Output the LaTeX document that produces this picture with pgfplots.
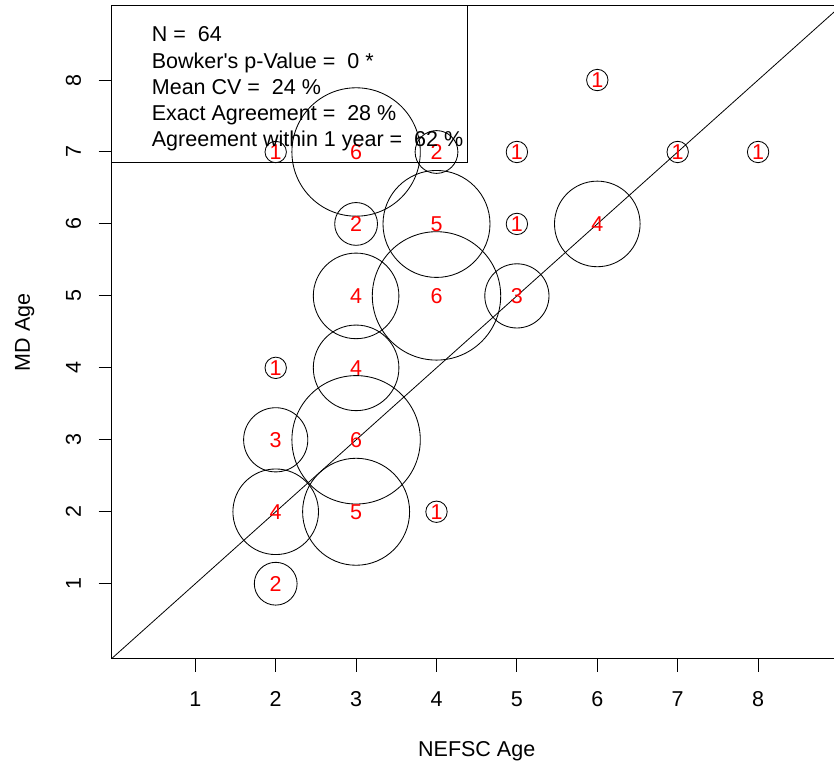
\documentclass[border=0pt]{standalone}
\usepackage{fontspec}
\setmainfont{Liberation Sans}
\usepackage{pgfplots}
\pgfplotsset{compat=1.18}
\usepackage{pgfplotstable}

% counts of fish by NEFSC age (x) and MD age (y)
\pgfplotstableread{
x y n
2 1 2
2 2 4
3 2 5
4 2 1
2 3 3
3 3 6
2 4 1
3 4 4
3 5 4
4 5 6
5 5 3
3 6 2
4 6 5
5 6 1
6 6 4
2 7 1
3 7 6
4 7 2
5 7 1
7 7 1
8 7 1
6 8 1
}\agetable

\newcommand{\plotfont}{\fontsize{21.5bp}{26bp}\selectfont}

\begin{document}
\begin{tikzpicture}[font=\plotfont]
\begin{axis}[
  at={(0,0)}, anchor=south west,
  scale only axis,
  width=730bp, height=653bp,
  xmin=-0.04, xmax=9.04,
  ymin=-0.042, ymax=9.033,
  axis line style={line width=1bp},
  xtick={1,...,8}, ytick={1,...,8},
  tick pos=left,
  tick align=outside,
  major tick length=13bp,
  tick style={line width=1bp, black},
  /pgf/number format/assume math mode=true,
  tick label style={font=\plotfont},
  xticklabel style={anchor=base, yshift=-35bp},
  yticklabel style={xshift=-17.7bp, rotate=90, anchor=base},
  every axis x label/.style={at={(axis description cs:0.5,0)}, yshift=-98bp, anchor=base},
  every axis y label/.style={at={(axis description cs:0,0.5)}, xshift=-81.7bp, rotate=90, anchor=base},
  xlabel={NEFSC Age},
  ylabel={MD Age},
]
% 1:1 line
\addplot[black, line width=0.8bp] coordinates {(-0.1,-0.1) (9.2,9.2)};
% bubbles, radius proportional to count
\addplot[scatter, only marks, mark=o, line width=0.85bp,
  scatter/use mapped color={draw=black, fill=none},
  point meta=\thisrow{n},
  visualization depends on={10.7*\thisrow{n} \as \bubr},
  scatter/@pre marker code/.append style={/tikz/mark size=\bubr bp}]
  table[x=x, y=y] {\agetable};
% counts
\addplot[draw=none, mark=none,
  nodes near coords, point meta=explicit symbolic,
  nodes near coords align=center,
  every node near coord/.append style={text=red, anchor=center, inner sep=0pt, font=\plotfont}]
  table[x=x, y=y, meta=n] {\agetable};
\end{axis}
% summary box
\draw[line width=1bp] (0,495.7bp) -- (356bp,495.7bp) -- (356bp,653bp);
\node[anchor=base west, inner sep=0pt] at (40bp,616.7bp) {N =\ \ 64};
\node[anchor=base west, inner sep=0pt] at (40bp,590.5bp) {Bowker\textquotesingle s p-Value =\ \ 0 *};
\node[anchor=base west, inner sep=0pt] at (40bp,564.3bp) {Mean CV =\ \ 24 \%};
\node[anchor=base west, inner sep=0pt] at (40bp,538.1bp) {Exact Agreement =\ \ 28 \%};
\node[anchor=base west, inner sep=0pt] at (40bp,511.9bp) {Agreement within 1 year =\ \ 62 \%};
\pgfresetboundingbox
\useasboundingbox (-111.7bp,-109.3bp) rectangle (722.3bp,658.7bp);
\end{tikzpicture}
\end{document}
